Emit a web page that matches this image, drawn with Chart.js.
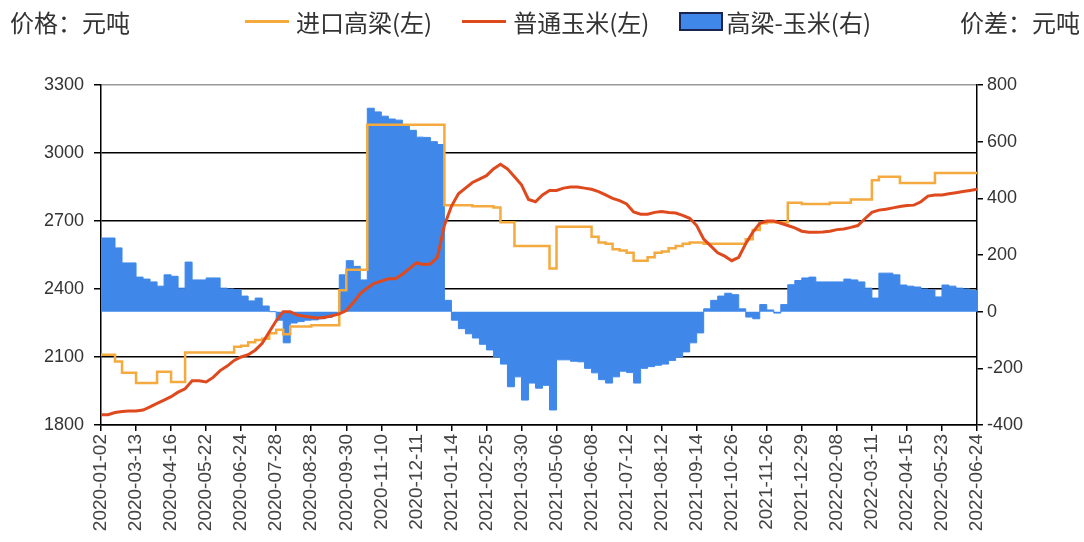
<!DOCTYPE html>
<html>
<head>
<meta charset="utf-8">
<script src="https://cdn.jsdelivr.net/npm/chart.js@4/dist/chart.umd.min.js"></script>
<style>
  body { margin: 0; background: #fff; }
  #wrap { position: relative; width: 1084px; height: 542px; }
  .ttl { position: absolute; top: 4px; font: 24px "Noto Sans CJK SC", sans-serif; color: #333; }
  #legend { position: absolute; top: 4px; left: 245px; display: flex; align-items: center;
            font: 24px "Noto Sans CJK SC", sans-serif; color: #333; white-space: nowrap; }
  #legend .item { display: flex; align-items: center; margin-right: 30px; }
  #legend .sw { display: inline-block; width: 44px; margin-right: 7px; box-sizing: border-box; }
</style>
</head>
<body>
<div id="wrap">
  <div class="ttl" style="left:10px">价格：元吨</div>
  <div class="ttl" style="right:4px">价差：元吨</div>
  <div id="legend"></div>
  <canvas id="chart" width="1084" height="542"></canvas>
</div>
<script>
// x axis: 5 weekly points between each labelled date
const PER_TICK = 5;
const tickDates = [
  "2020-01-02", "2020-03-13", "2020-04-16", "2020-05-22", "2020-06-24", "2020-07-28",
  "2020-08-28", "2020-09-30", "2020-11-10", "2020-12-11", "2021-01-14", "2021-02-25",
  "2021-03-30", "2021-05-06", "2021-06-08", "2021-07-12", "2021-08-12", "2021-09-14",
  "2021-10-26", "2021-11-26", "2021-12-29", "2022-02-08", "2022-03-11", "2022-04-15",
  "2022-05-23", "2022-06-24"
];

// 进口高梁 (元/吨)
const sorghum = [
  2110, 2110, 2080, 2030, 2030, 1985, 1985, 1985, 2035, 2035,
  1990, 1990, 2120, 2120, 2120, 2120, 2120, 2120, 2120, 2145,
  2150, 2165, 2175, 2180, 2205, 2220, 2200, 2235, 2235, 2235,
  2240, 2240, 2240, 2240, 2395, 2485, 2485, 2485, 3125, 3125,
  3125, 3125, 3125, 3125, 3125, 3125, 3125, 3125, 3125, 2770,
  2770, 2770, 2770, 2765, 2765, 2765, 2760, 2695, 2695, 2590,
  2590, 2590, 2590, 2590, 2490, 2675, 2675, 2675, 2675, 2675,
  2630, 2605, 2600, 2575, 2570, 2560, 2525, 2525, 2540, 2560,
  2565, 2580, 2590, 2600, 2605, 2605, 2600, 2600, 2600, 2600,
  2600, 2600, 2620, 2660, 2690, 2695, 2695, 2695, 2780, 2780,
  2775, 2775, 2775, 2775, 2780, 2780, 2780, 2795, 2795, 2795,
  2880, 2895, 2895, 2895, 2868, 2868, 2868, 2868, 2868, 2912,
  2912, 2912, 2912, 2912, 2912, 2912
];

// 普通玉米 (元/吨)
const corn = [
  1845, 1845, 1855, 1860, 1862, 1862, 1866, 1880, 1895, 1910,
  1925, 1945, 1960, 1995, 1995, 1990, 2010, 2040, 2060, 2085,
  2100, 2110, 2130, 2160, 2210, 2260, 2300, 2300, 2285, 2280,
  2275, 2272, 2275, 2282, 2290, 2305, 2340, 2380, 2405, 2425,
  2435, 2445, 2445, 2465, 2490, 2515, 2508, 2510, 2540, 2680,
  2765, 2820, 2845, 2870, 2885, 2900, 2930, 2950, 2930, 2895,
  2860, 2795, 2785, 2815, 2835, 2835, 2845, 2850, 2850, 2845,
  2840, 2830, 2815, 2800, 2790, 2775, 2740, 2730, 2730, 2738,
  2742, 2738, 2735, 2725, 2712, 2680, 2620, 2590, 2560, 2545,
  2525, 2540, 2600, 2650, 2690, 2700, 2700, 2690, 2680, 2670,
  2655, 2650, 2650, 2652, 2655, 2662, 2665, 2672, 2680, 2710,
  2738, 2748, 2752, 2758, 2764, 2768, 2770, 2785, 2810, 2815,
  2815, 2820, 2825, 2830, 2835, 2840
];

// 高梁-玉米 价差 (元/吨)
const spread = [
  260, 260, 225, 172, 172, 122, 115, 105, 90, 130,
  125, 83, 175, 112, 112, 119, 119, 83, 80, 77,
  55, 38, 48, 20, 0, -30, -110, -40, -35, -30,
  -29, -25, -20, -10, 130, 180, 160, 112, 718, 705,
  690, 680, 676, 655, 640, 616, 615, 600, 590, 40,
  -30, -60, -78, -93, -115, -135, -160, -185, -265, -230,
  -312, -252, -270, -260, -347, -170, -170, -175, -177, -200,
  -216, -240, -252, -230, -210, -215, -252, -200, -194, -189,
  -185, -172, -160, -142, -110, -75, 10, 40, 55, 65,
  60, 10, -19, -25, 25, 6, -5, 25, 95, 110,
  119, 122, 105, 105, 105, 105, 115, 112, 105, 83,
  48, 136, 136, 130, 94, 90, 87, 80, 77, 52,
  94, 90, 83, 80, 75, 69
];

const tickFont = { family: '"Liberation Sans", Arial, sans-serif', size: 18 };
const toXY = (arr) => arr.map((v, i) => ({ x: i, y: v }));

const chart = new Chart(document.getElementById("chart").getContext("2d"), {
  type: "line",
  data: {
    datasets: [
      {
        label: "进口高梁(左)",
        data: toXY(sorghum),
        borderColor: "#F4AA3E",
        borderWidth: 2.5,
        stepped: true,
        pointRadius: 0,
        yAxisID: "y",
        order: 1,
      },
      {
        label: "普通玉米(左)",
        data: toXY(corn),
        borderColor: "#DE4A1E",
        borderWidth: 3,
        pointRadius: 0,
        tension: 0,
        yAxisID: "y",
        order: 0,
      },
      {
        label: "高梁-玉米(右)",
        data: toXY(spread),
        borderColor: "#3F88EA",
        backgroundColor: "#3F88EA",
        borderWidth: 1,
        stepped: true,
        fill: "origin",
        pointRadius: 0,
        yAxisID: "y2",
        order: 2,
      },
    ],
  },
  options: {
    responsive: false,
    animation: false,
    layout: { padding: { top: 85, left: 0, right: 0, bottom: 0 } },
    plugins: { legend: { display: false }, tooltip: { enabled: false } },
    scales: {
      x: {
        type: "linear",
        min: 0,
        max: (tickDates.length - 1) * PER_TICK,
        afterFit: (s) => { s.height = 117; },
        ticks: {
          stepSize: PER_TICK,
          autoSkip: false,
          maxRotation: 90,
          minRotation: 90,
          padding: 3,
          color: "#444",
          font: { ...tickFont, size: 19 },
          callback: (v) => tickDates[Math.round(v / PER_TICK)],
        },
        grid: { drawOnChartArea: false, tickLength: 6, color: "#000", lineWidth: 1.5 },
        border: { color: "#000", width: 1.5 },
      },
      y: {
        position: "left",
        min: 1800,
        max: 3300,
        afterFit: (s) => { s.width = 101; },
        ticks: { stepSize: 300, padding: 10, color: "#333", font: tickFont, callback: (v) => String(v) },
        grid: {
          color: (c) => (c.tick && c.tick.value === 3300 ? "#999" : "#000"),
          tickColor: "#000",
          lineWidth: 1.5,
          tickLength: 7,
        },
        border: { color: "#000", width: 1.5 },
      },
      y2: {
        position: "right",
        min: -400,
        max: 800,
        afterFit: (s) => { s.width = 107; },
        ticks: { stepSize: 200, padding: 4, color: "#333", font: tickFont, callback: (v) => String(v) },
        grid: { drawOnChartArea: false, tickLength: 6, color: "#000", lineWidth: 1.5 },
        border: { color: "#000", width: 1.5 },
      },
    },
  },
});

// legend row built from the datasets
const legend = document.getElementById("legend");
chart.data.datasets.forEach((ds) => {
  const item = document.createElement("span");
  item.className = "item";
  const sw = document.createElement("span");
  sw.className = "sw";
  if (ds.fill) {
    sw.style.height = "19px";
    sw.style.background = ds.backgroundColor;
    sw.style.border = "2px solid #1c2550";
    sw.style.marginRight = "3px";
  } else {
    sw.style.height = "3px";
    sw.style.background = ds.borderColor;
  }
  item.appendChild(sw);
  item.appendChild(document.createTextNode(ds.label));
  legend.appendChild(item);
});
</script>
</body>
</html>
